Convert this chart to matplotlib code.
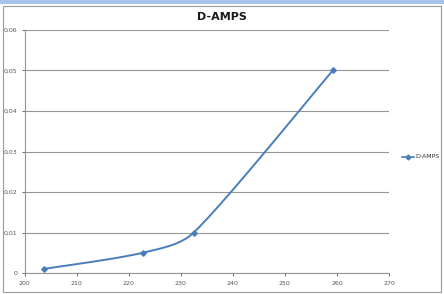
import numpy as np
import matplotlib.pyplot as plt
from matplotlib.patches import Rectangle

x_vals = [203.7, 222.7, 232.5, 259.2]
y_vals = [0.001, 0.005, 0.010, 0.050]
series_name = 'D-AMPS'
x_ticks = [200, 210, 220, 230, 240, 250, 260, 270]
y_ticks = [0, 0.01, 0.02, 0.03, 0.04, 0.05, 0.06]


def smooth(xs, ys, sx, sy, n=40):
    # Excel-like smoothed line: Catmull-Rom Bezier in screen space,
    # control arms clamped to a third of the segment length
    p = np.column_stack([np.array(xs) * sx, np.array(ys) * sy])
    p = np.vstack([p[0], p, p[-1]])
    out = []
    for i in range(1, len(p) - 2):
        p0, p1, p2, p3 = p[i - 1], p[i], p[i + 1], p[i + 2]
        seg = np.linalg.norm(p2 - p1)
        t1 = (p2 - p0) / 6
        t2 = (p3 - p1) / 6
        for t in (t1, t2):
            m = np.linalg.norm(t)
            if m > seg / 3:
                t *= (seg / 3) / m
        c1 = p1 + t1
        c2 = p2 - t2
        t = np.linspace(0, 1, n)[:, None]
        out.append((1 - t) ** 3 * p1 + 3 * (1 - t) ** 2 * t * c1 + 3 * (1 - t) * t ** 2 * c2 + t ** 3 * p2)
    out = np.vstack(out)
    return out[:, 0] / sx, out[:, 1] / sy


fig = plt.figure(figsize=(4.44, 2.94), dpi=100)
fig.patch.set_facecolor('white')

# window frame
fig.patches.append(Rectangle((0, 0.985), 1, 0.015, transform=fig.transFigure,
                             facecolor='#a9c4e8', edgecolor='none', zorder=-2))
fig.patches.append(Rectangle((0.007, 0.008), 0.986, 0.972, transform=fig.transFigure,
                             facecolor='white', edgecolor='#9a9a9a', linewidth=0.8, zorder=-1))

ax_w, ax_h = 389 - 24.5, 273 - 30
ax = fig.add_axes([24.5 / 444, 1 - 273 / 294, ax_w / 444, ax_h / 294])
ax.set_zorder(2)
ax.patch.set_alpha(0)
line_color = '#4a7ebb'
cx, cy = smooth(x_vals, y_vals, ax_w / 70, ax_h / 0.06)
ax.plot(cx, cy, color=line_color, linewidth=1.4)
ax.plot(x_vals, y_vals, linestyle='none', marker='D', markersize=2.8,
        color=line_color)

ax.set_xlim(200, 270)
ax.set_ylim(0, 0.06)
ax.set_xticks(x_ticks)
ax.set_yticks(y_ticks)
ax.set_yticklabels(['0' if v == 0 else f'{v:.2f}'.replace('.', ',') for v in y_ticks])
ax.tick_params(labelsize=4.5, colors='#555555', length=2, width=0.6, pad=3)
ax.tick_params(axis='x', pad=4)
ax.yaxis.grid(True, color='#959595', linewidth=0.8)
ax.set_axisbelow(True)
for side in ['top', 'right']:
    ax.spines[side].set_visible(False)
for side in ['left', 'bottom']:
    ax.spines[side].set_color('#959595')
    ax.spines[side].set_linewidth(0.8)

fig.text(222 / 444, 1 - 17 / 294, 'D-AMPS', ha='center', va='center',
         fontsize=8, fontweight='bold', color='#1a1a1a')

# legend
lx0, lx1, ly = 402 / 444, 414 / 444, 1 - 157 / 294
fig.lines.append(plt.Line2D([lx0, lx1], [ly, ly], transform=fig.transFigure,
                            color=line_color, linewidth=1.2))
fig.lines.append(plt.Line2D([(lx0 + lx1) / 2], [ly], transform=fig.transFigure,
                            marker='D', markersize=2.5, color=line_color))
fig.text(415 / 444, ly, series_name, fontsize=4.5, va='center', ha='left', color='#333333')

plt.savefig('out.png', dpi=100)
